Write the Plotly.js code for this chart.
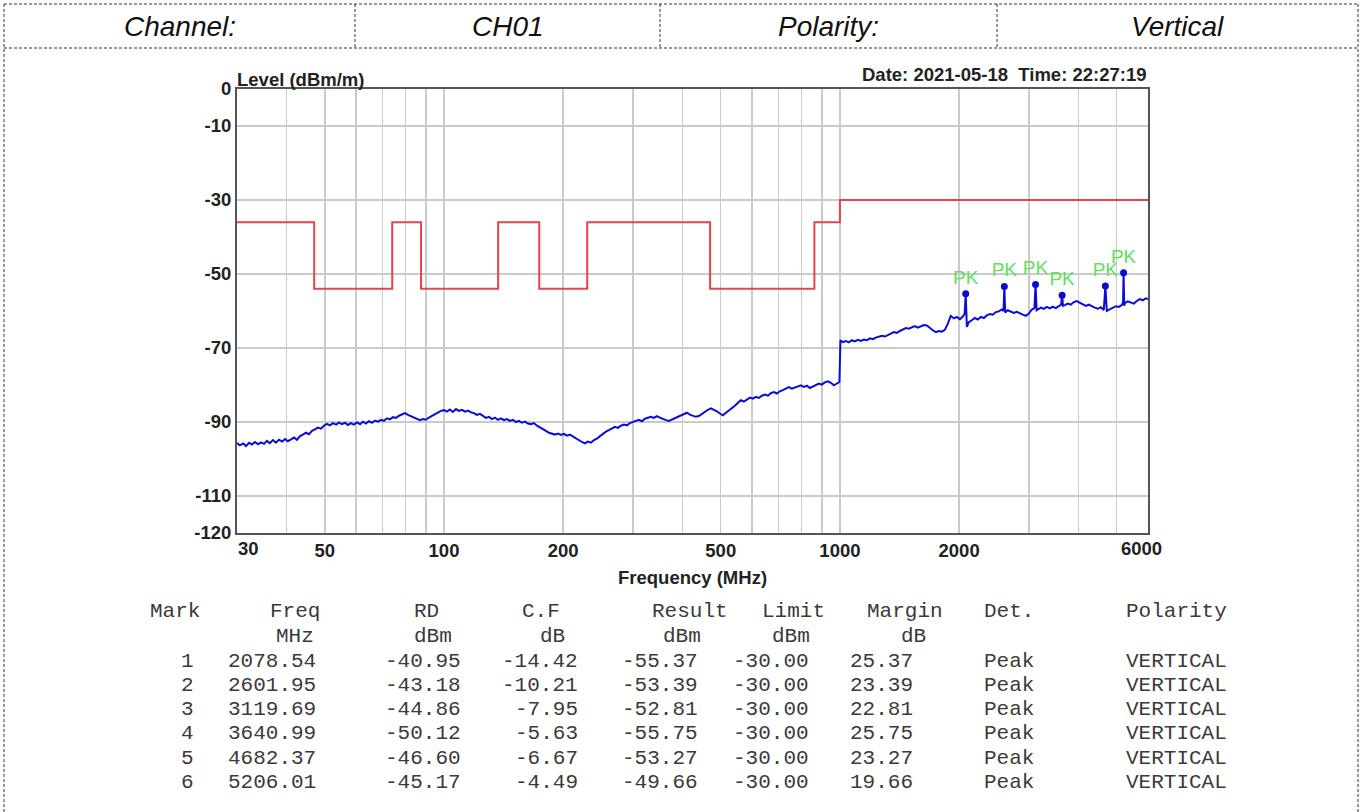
<!DOCTYPE html>
<html>
<head>
<meta charset="utf-8">
<script src="https://cdn.plot.ly/plotly-3.0.1.min.js"></script>
<style>
  html, body { margin: 0; padding: 0; background: #ffffff; }
  #chart { width: 1362px; height: 812px; }
</style>
</head>
<body>
<div id="chart"></div>
<script>
// ---------------- DATA ----------------
const traceFreq = [30,30.5,31.1,31.6,32.2,32.7,33.3,33.9,34.5,35.1,35.7,36.3,37.0,37.6,38.3,39.0,39.7,40.3,41.1,41.8,42.5,43.3,44.0,44.8,45.6,46.4,47.2,48.0,48.9,49.7,50.6,51.5,52.4,53.4,54.3,55.2,56.2,57.2,58.2,59.2,60.3,61.4,62.4,63.5,64.6,65.8,66.9,68.1,69.3,70.5,71.8,73.0,74.3,75.6,77.0,78.3,79.7,81.1,82.5,84.0,85.4,86.9,88.5,90.0,91.6,93.2,94.9,96.5,98.2,100.0,101.7,103.5,105.3,107.2,109.1,111.0,113.0,115.0,117.0,119.0,121.1,123.3,125.4,127.6,129.9,132.2,134.5,136.8,139.3,141.7,144.2,146.7,149.3,152.0,154.6,157.4,160.1,162.9,165.8,168.7,171.7,174.7,177.8,180.9,184.1,187.3,190.6,194.0,197.4,200.9,204.4,208.0,211.6,215.4,219.2,223.0,226.9,230.9,235.0,239.1,243.3,247.6,252.0,256.4,260.9,265.5,270.2,275.0,279.8,284.7,289.7,294.8,300,305.3,310.7,316.1,321.7,327.3,333.1,339.0,344.9,351.0,357.2,363.5,369.8,376.3,383.0,389.7,396.5,403.5,410.6,417.8,425.2,432.7,440.3,448.1,456.0,464.0,472.2,480.5,488.9,497.5,506.3,515.2,524.3,533.5,542.9,552.5,562.1,572.1,582.1,592.4,602.8,613.4,624.2,635.2,646.3,657.7,669.3,681.0,693.0,705.2,717.6,730.2,743.1,756.2,769.5,783.0,796.8,810.9,825.1,839.6,854.4,869.4,884.7,900.3,916.1,932.3,948.7,965.4,982.4,997.0,1003,1017,1035,1053,1072,1091,1110,1130,1150,1170,1190,1211,1232,1254,1276,1299,1322,1345,1368,1393,1417,1442,1467,1493,1519,1546,1573,1601,1629,1658,1687,1717,1747,1778,1809,1841,1873,1906,1940,1974,2009,2044,2065,2078.54,2092,2116,2153,2192,2230,2269,2309,2350,2391,2433,2476,2520,2564,2590,2601.95,2615,2655,2702,2749,2798,2847,2897,2948,3000,3053,3100,3119.69,3140,3217,3273,3331,3390,3449,3510,3572,3620,3640.99,3660,3698,3763,3830,3897,3965,4035,4106,4178,4252,4327,4403,4481,4560,4640,4682.37,4722,4805,4889,4976,5063,5152,5190,5206.01,5225,5243,5335,5429,5525,5621,5720,5821,5923,6000];
const traceLevel = [-95.7,-96.3,-95.8,-96.5,-95.6,-96.1,-95.4,-96.0,-95.5,-95.9,-95.1,-95.7,-94.9,-95.6,-94.8,-95.3,-94.6,-95.2,-94.7,-94.2,-94.8,-93.8,-93.4,-92.9,-93.3,-92.4,-92.0,-91.5,-91.8,-91.0,-90.5,-90.9,-90.3,-90.7,-90.1,-90.6,-90.2,-90.8,-90.3,-90.7,-90.1,-90.6,-89.9,-90.4,-89.8,-90.2,-89.6,-89.9,-89.4,-89.7,-89.0,-89.3,-88.7,-88.9,-88.3,-88.0,-87.6,-88.1,-88.4,-88.9,-89.1,-89.5,-89.2,-89.4,-88.8,-88.3,-87.9,-87.4,-87.0,-86.8,-87.2,-86.6,-87.3,-86.5,-87.0,-86.7,-87.2,-86.9,-87.4,-87.6,-88.1,-87.8,-88.4,-88.9,-88.6,-89.2,-88.8,-89.4,-89.0,-89.5,-89.2,-89.7,-89.4,-90.0,-89.7,-90.2,-89.9,-90.4,-90.6,-90.3,-91.0,-91.4,-91.9,-92.4,-92.9,-93.1,-93.4,-93.1,-93.5,-93.2,-93.7,-93.4,-93.9,-94.5,-95.1,-95.4,-95.8,-95.3,-95.6,-94.9,-94.5,-93.8,-93.3,-92.6,-92.2,-91.8,-91.3,-91.6,-91.0,-90.7,-90.9,-90.3,-90.1,-89.7,-89.4,-89.8,-89.1,-88.9,-88.6,-88.9,-88.4,-88.8,-89.2,-89.5,-89.7,-89.3,-89.0,-88.5,-88.2,-87.8,-87.5,-88.0,-88.3,-88.6,-88.4,-87.8,-87.3,-86.7,-86.3,-86.6,-87.1,-87.7,-88.2,-87.5,-86.9,-86.2,-85.6,-84.8,-84.1,-84.5,-84.0,-83.4,-83.7,-83.2,-83.5,-82.9,-82.6,-82.9,-82.2,-81.9,-82.3,-81.7,-81.4,-81.0,-80.6,-81.0,-80.7,-80.3,-80.1,-80.5,-80.2,-80.8,-80.4,-80.0,-79.6,-79.9,-79.3,-79.0,-79.4,-80.1,-79.6,-79.2,-67.9,-68.4,-68.1,-68.5,-67.9,-68.2,-67.8,-68.1,-67.7,-67.9,-67.4,-67.6,-67.2,-67.0,-66.7,-66.9,-66.4,-66.1,-65.7,-65.9,-65.4,-65.0,-64.6,-64.8,-64.4,-64.1,-64.5,-64.2,-63.8,-63.9,-64.6,-65.2,-65.7,-65.4,-65.6,-65.1,-63.4,-61.3,-62.0,-61.6,-62.2,-61.5,-60.8,-55.37,-64.3,-63.0,-62.5,-61.9,-62.3,-61.6,-61.9,-61.2,-60.8,-61.0,-60.3,-60.1,-59.6,-60.0,-53.39,-60.4,-59.8,-60.1,-60.5,-60.2,-60.7,-61.0,-61.3,-60.7,-59.6,-59.2,-52.81,-59.8,-59.1,-59.4,-58.9,-59.3,-58.8,-59.2,-58.7,-58.3,-55.75,-58.6,-58.4,-58.0,-58.3,-57.6,-57.3,-57.8,-58.2,-58.6,-58.3,-58.8,-59.1,-59.4,-59.0,-59.7,-53.27,-60.0,-59.5,-59.1,-58.7,-58.9,-58.4,-57.8,-49.66,-58.6,-57.9,-57.4,-57.8,-58.0,-57.3,-56.8,-57.1,-56.6,-56.8];

const limitFreq  = [30, 47, 74, 87.5, 137, 174, 230, 470, 862, 1000, 6000];
const limitLevel = [-36, -54, -36, -54, -36, -54, -36, -54, -36, -30, -30];

const markNo     = [1, 2, 3, 4, 5, 6];
const markFreq   = [2078.54, 2601.95, 3119.69, 3640.99, 4682.37, 5206.01];
const markRD     = [-40.95, -43.18, -44.86, -50.12, -46.60, -45.17];
const markCF     = [-14.42, -10.21, -7.95, -5.63, -6.67, -4.49];
const markResult = [-55.37, -53.39, -52.81, -55.75, -53.27, -49.66];
const markLimit  = [-30.00, -30.00, -30.00, -30.00, -30.00, -30.00];
const markMargin = [25.37, 23.39, 22.81, 25.75, 23.27, 19.66];
const markDet    = ['Peak', 'Peak', 'Peak', 'Peak', 'Peak', 'Peak'];
const markPol    = ['VERTICAL', 'VERTICAL', 'VERTICAL', 'VERTICAL', 'VERTICAL', 'VERTICAL'];

const xTickVals = [30,40,50,60,70,80,90,100,200,300,400,500,600,700,800,900,1000,2000,3000,4000,5000,6000];
const xTickText = ['','','50','','','','','100','200','','','500','','','','','1000','2000','','','',''];
const yTickVals = [0, -10, -30, -50, -70, -90, -110, -120];
const yTickText = ['0', '-10', '-30', '-50', '-70', '-90', '-110', '-120'];

const headerCells = ['Channel:', 'CH01', 'Polarity:', 'Vertical'];
const tableHeads  = ['Mark', 'Freq', 'RD', 'C.F', 'Result', 'Limit', 'Margin', 'Det.', 'Polarity'];
const tableUnits  = ['', 'MHz', 'dBm', 'dB', 'dBm', 'dBm', 'dB', '', ''];

// ---------------- LAYOUT HELPERS ----------------
const W = 1362, H = 812;
const PL = 237, PR = 1148, PT = 89, PB = 533;
const X = px => (px - PL) / (PR - PL);
const Y = py => (PB - py) / (PB - PT);

const SANS = 'Liberation Sans, Arial, sans-serif';
const MONO = 'Liberation Mono, Courier New, monospace';
const boldFont = {family: SANS, size: 18.5, color: '#222', weight: 'bold'};

const annotations = [];
const shapes = [];

// chart texts
annotations.push({xref:'paper', yref:'paper', x:X(235), y:Y(79), xanchor:'left', yanchor:'middle',
  text:'Level (dBm/m)', showarrow:false, font:boldFont});
annotations.push({xref:'paper', yref:'paper', x:X(1149), y:Y(74), xanchor:'right', yanchor:'middle',
  text:'Date: 2021-05-18\u00a0 Time: 22:27:19', showarrow:false, font:boldFont});
annotations.push({xref:'paper', yref:'paper', x:X(692.5), y:Y(577), xanchor:'center', yanchor:'middle',
  text:'Frequency (MHz)', showarrow:false, font:boldFont});
// edge tick labels pulled inward as in the original
annotations.push({xref:'x', yref:'paper', x:Math.log10(xTickVals[0]), y:Y(548), xanchor:'center', yanchor:'middle',
  xshift:11, text:String(xTickVals[0]), showarrow:false, font:boldFont});
annotations.push({xref:'x', yref:'paper', x:Math.log10(xTickVals[xTickVals.length-1]), y:Y(548), xanchor:'center', yanchor:'middle',
  xshift:-7, text:String(xTickVals[xTickVals.length-1]), showarrow:false, font:boldFont});

// header row (dashed table)
const dash = {color:'#333', width:1, dash:'3px,2px'};
const hTop = 4, hBot = 48, bLeft = 4, bRight = 1358;
const dividers = [bLeft, 355, 660, 997, bRight];
shapes.push({type:'line', xref:'paper', yref:'paper', x0:X(bLeft), x1:X(bRight), y0:Y(hTop), y1:Y(hTop), line:dash});
shapes.push({type:'line', xref:'paper', yref:'paper', x0:X(bLeft), x1:X(bRight), y0:Y(hBot), y1:Y(hBot), line:dash});
shapes.push({type:'line', xref:'paper', yref:'paper', x0:X(bLeft), x1:X(bLeft), y0:Y(hTop), y1:Y(H+5), line:dash});
shapes.push({type:'line', xref:'paper', yref:'paper', x0:X(bRight), x1:X(bRight), y0:Y(hTop), y1:Y(H+5), line:dash});
for (let i = 1; i < dividers.length - 1; i++) {
  shapes.push({type:'line', xref:'paper', yref:'paper', x0:X(dividers[i]), x1:X(dividers[i]), y0:Y(hTop), y1:Y(hBot), line:dash});
}
headerCells.forEach((t, i) => {
  annotations.push({xref:'paper', yref:'paper', x:X((dividers[i] + dividers[i+1]) / 2), y:Y(26),
    xanchor:'center', yanchor:'middle', text:t, showarrow:false,
    font:{family:SANS, size:28, color:'#111', style:'italic'}});
});

// marker table
const monoFont = {family: MONO, size: 21, color: '#3a3a3a'};
const headLeft = [148, 268, 412, 520, 650, 760, 865, 982, 1124];
const unitLeft = [0, 274, 412, 538, 661, 770, 899, 0, 0];
const rowY0 = 661, rowStep = 24.3;
tableHeads.forEach((t, i) => {
  annotations.push({xref:'paper', yref:'paper', x:X(headLeft[i]), y:Y(611), xanchor:'left', yanchor:'middle',
    text:t, showarrow:false, font:monoFont});
  if (tableUnits[i]) {
    annotations.push({xref:'paper', yref:'paper', x:X(unitLeft[i]), y:Y(636), xanchor:'left', yanchor:'middle',
      text:tableUnits[i], showarrow:false, font:monoFont});
  }
});
const colRight = [196, 318, 463, 580, 700, 811, 915];
markNo.forEach((n, r) => {
  const yy = Y(rowY0 + r * rowStep);
  const vals = [String(n), markFreq[r].toFixed(2), markRD[r].toFixed(2), markCF[r].toFixed(2),
                markResult[r].toFixed(2), markLimit[r].toFixed(2), markMargin[r].toFixed(2)];
  vals.forEach((v, c) => {
    annotations.push({xref:'paper', yref:'paper', x:X(colRight[c]), y:yy, xanchor:'right', yanchor:'middle',
      text:v, showarrow:false, font:monoFont});
  });
  annotations.push({xref:'paper', yref:'paper', x:X(982), y:yy, xanchor:'left', yanchor:'middle',
    text:markDet[r], showarrow:false, font:monoFont});
  annotations.push({xref:'paper', yref:'paper', x:X(1124), y:yy, xanchor:'left', yanchor:'middle',
    text:markPol[r], showarrow:false, font:monoFont});
});

// ---------------- TRACES ----------------
const traces = [
  {x: limitFreq, y: limitLevel, type:'scatter', mode:'lines', line:{color:'#e8434b', width:2, shape:'hv'},
   hoverinfo:'skip', showlegend:false},
  {x: traceFreq, y: traceLevel, type:'scatter', mode:'lines', line:{color:'#0b0bd6', width:2},
   showlegend:false},
  {x: markFreq, y: markResult, type:'scatter', mode:'markers+text', text: markFreq.map(() => 'PK'),
   textposition:'top center', textfont:{family:SANS, size:19, color:'#5fe05f'},
   marker:{color:'#0a0ad0', size:7}, showlegend:false}
];

const axisCommon = {
  showgrid:true, gridcolor:'#cacaca', gridwidth:1.5,
  showline:true, linecolor:'#555', linewidth:2, mirror:true,
  ticks:'', zeroline:false, tickfont:boldFont, fixedrange:true
};

const layout = {
  width: W, height: H,
  margin: {l: PL, r: W - PR, t: PT, b: H - PB, pad: 0},
  paper_bgcolor:'#ffffff', plot_bgcolor:'#ffffff',
  font:{family:SANS},
  showlegend:false,
  xaxis: Object.assign({}, axisCommon, {
    type:'log', range:[Math.log10(30), Math.log10(6000)],
    tickmode:'array', tickvals:xTickVals, ticktext:xTickText
  }),
  yaxis: Object.assign({}, axisCommon, {
    range:[-120, 0], tickmode:'array', tickvals:yTickVals, ticktext:yTickText
  }),
  annotations: annotations,
  shapes: shapes
};

Plotly.newPlot('chart', traces, layout, {displayModeBar:false, staticPlot:true});
</script>
</body>
</html>
